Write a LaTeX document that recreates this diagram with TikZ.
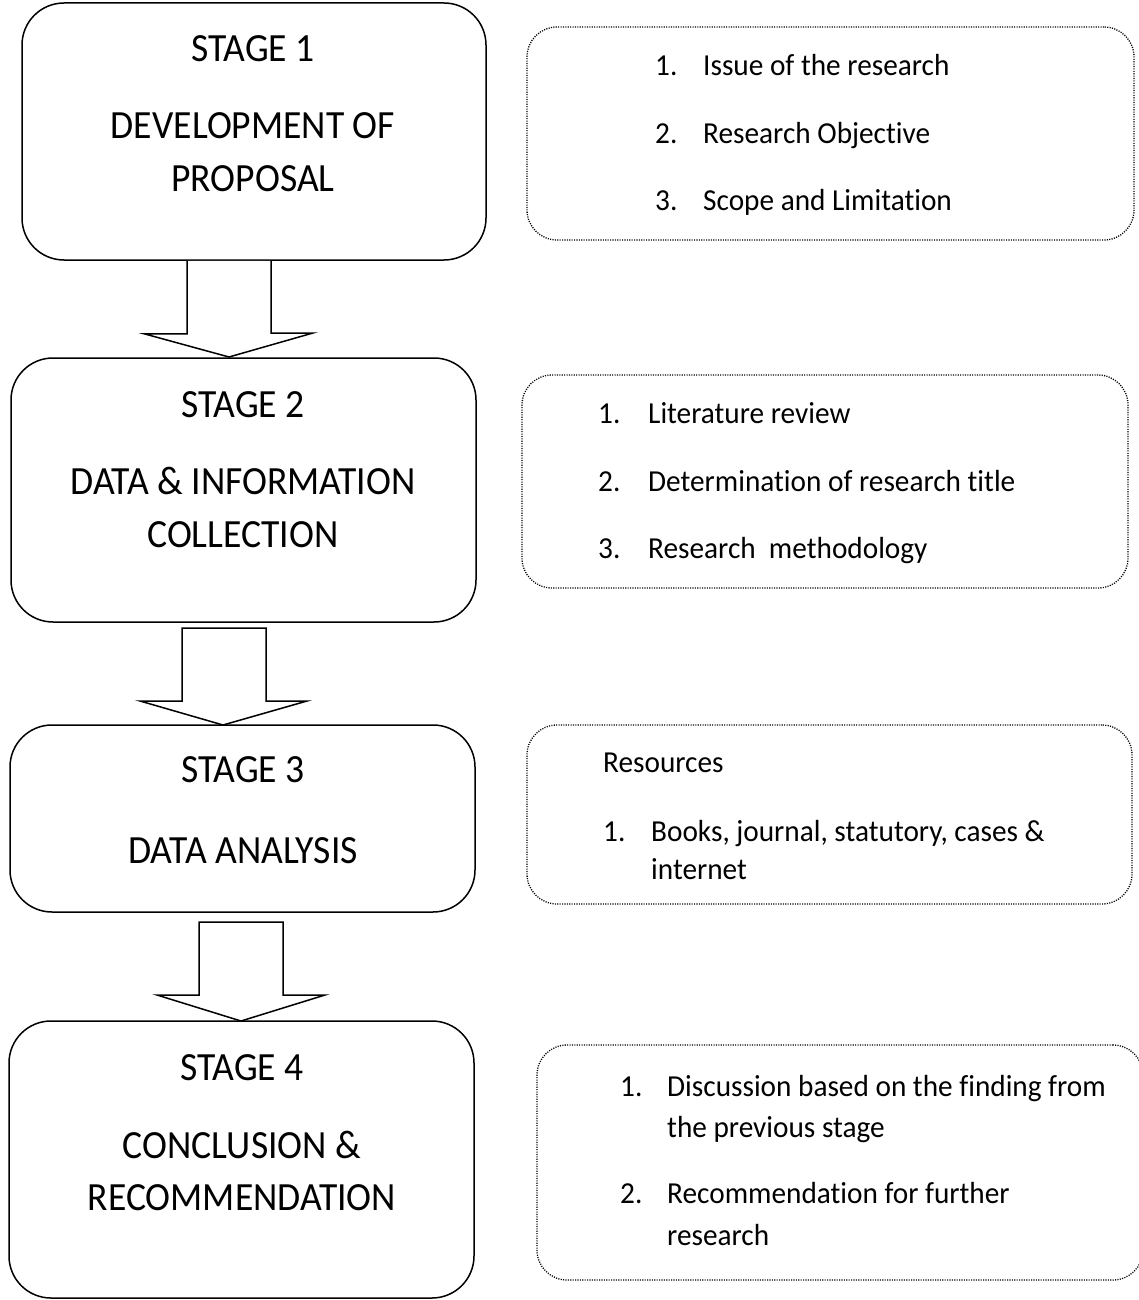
\documentclass[tikz,border=0pt]{standalone}
\usepackage{fontspec}
\setmainfont{Carlito}[FakeStretch=0.94, Ligatures={NoCommon}]
\newfontfamily\notefont{Carlito}[FakeStretch=0.96, Ligatures={NoCommon}]
\usetikzlibrary{calc}
\begin{document}
\begin{tikzpicture}[x=1pt,y=-1pt,
  stagebox/.style={draw, line width=1.5pt, rounded corners=42pt, inner sep=0pt, minimum width=#1},
  notebox/.style={draw, line width=1.3pt, dash pattern=on 1.1pt off 1.3pt, rounded corners=30pt, inner sep=0pt},
  blockarrow/.style={draw, line width=1.5pt, fill=white, line join=miter},
  stagetext/.style={font=\fontsize{40}{44}\selectfont, anchor=base, inner sep=0pt},
  notetext/.style={font=\notefont\fontsize{30.5}{34}\selectfont, anchor=base west, inner sep=0pt}]
\useasboundingbox (0,0) rectangle (1138,1300);

% stage boxes
\node[stagebox=464pt, minimum height=257pt] (s1) at (254,131.5) {};
\node[stagebox=465pt, minimum height=264pt] (s2) at (243.5,490) {};
\node[stagebox=465pt, minimum height=187pt] (s3) at (242.5,818.5) {};
\node[stagebox=465pt, minimum height=277pt] (s4) at (241.5,1159.5) {};

% stage texts
\node[stagetext] (t1a) at (253,62) {STAGE 1};
\node[stagetext] (t1b) at (253,139) {DEVELOPMENT OF};
\node[stagetext] (t1c) at (253,192) {PROPOSAL};
\node[stagetext] (t2a) at (243,417) {STAGE 2};
\node[stagetext] (t2b) at (243,494) {DATA \& INFORMATION};
\node[stagetext] (t2c) at (243,547) {COLLECTION};
\node[stagetext] (t3a) at (243,782) {STAGE 3};
\node[stagetext] (t3b) at (243,863) {DATA ANALYSIS};
\node[stagetext] (t4a) at (242,1080) {STAGE 4};
\node[stagetext] (t4b) at (242,1158) {CONCLUSION \&};
\node[stagetext] (t4c) at (242,1210) {RECOMMENDATION};

% block arrows (shaft from box bottom, tip at next box top)
\coordinate (a1) at (229,357);
\coordinate (a2) at (223,725);
\coordinate (a3) at (241,1021);
\draw[blockarrow] ($(s1.south)+(-67,0)$) -- ++(0,73) -- ++(-43,0) -- (a1)
  -- ++(84,-24) -- ++(-42,0) -- ($(s1.south)+(17,0)$);
\draw[blockarrow] (182,628) -- (182,701) -- (140,701) -- (a2) -- (307,701) -- (266,701) -- (266,628) -- cycle;
\draw[blockarrow] (199,922) -- (199,995) -- (157,995) -- (a3) -- (325,995) -- (283,995) -- (283,922) -- cycle;

% note boxes
\node[notebox, minimum width=607pt, minimum height=213pt] (n1) at (830.5,133.5) {};
\node[notebox, minimum width=606pt, minimum height=213pt] (n2) at (825,481.5) {};
\node[notebox, minimum width=605pt, minimum height=179pt] (n3) at (829.5,814.5) {};
\node[notebox, minimum width=606pt, minimum height=235pt] (n4) at (840,1162.5) {};

% note texts
\node[notetext] (p1a) at (655,76) {1.};
\node[notetext] (q1a) at (703,76) {Issue of the research};
\node[notetext] (p1b) at (655,144) {2.};
\node[notetext] (q1b) at (703,144) {Research Objective};
\node[notetext] (p1c) at (655,210) {3.};
\node[notetext] (q1c) at (703,210) {Scope and Limitation};

\node[notetext] (p2a) at (598,423) {1.};
\node[notetext] (q2a) at (648,423) {Literature review};
\node[notetext] (p2b) at (598,491) {2.};
\node[notetext] (q2b) at (648,491) {Determination of research title};
\node[notetext] (p2c) at (598,558) {3.};
\node[notetext] (q2c) at (648,558) {Research\ \ methodology};

\node[notetext] (r3) at (603,772) {Resources};
\node[notetext] (p3a) at (603,841) {1.};
\node[notetext] (q3a) at (651,841) {Books, journal, statutory, cases \&};
\node[notetext] (q3b) at (651,879) {internet};

\node[notetext] (p4a) at (620,1096) {1.};
\node[notetext] (q4a) at (667,1096) {Discussion based on the finding from};
\node[notetext] (q4b) at (667,1137) {the previous stage};
\node[notetext] (p4b) at (620,1203) {2.};
\node[notetext] (q4c) at (667,1203) {Recommendation for further};
\node[notetext] (q4d) at (667,1245) {research};
\end{tikzpicture}
\end{document}
